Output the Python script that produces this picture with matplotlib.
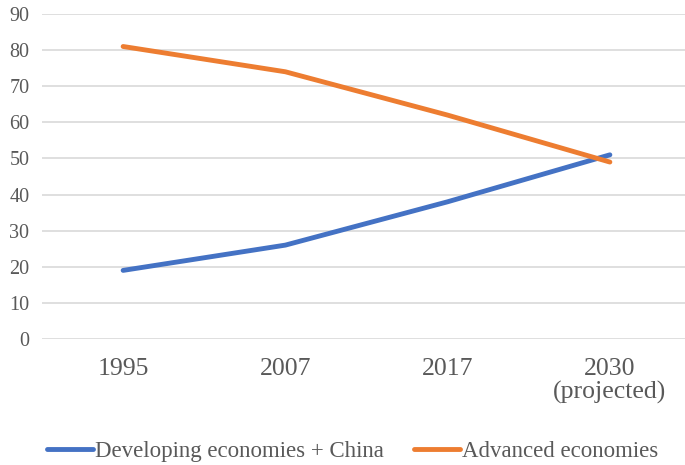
import numpy as np
import matplotlib.pyplot as plt

years = ["1995", "2007", "2017", "2030\n(projected)"]
developing = [19, 26, 38, 51]
advanced = [81, 74, 62, 49]

plt.rcParams['font.family'] = ['Liberation Serif', 'DejaVu Serif']
grey = "#595959"

fig = plt.figure(figsize=(6.85, 4.65), dpi=100)
ax = fig.add_axes([42/685, 126/465, 649/685, 325/465])

x = np.arange(len(years))
ax.plot(x, developing, color="#4472C4", lw=3.5, solid_capstyle="round", label="Developing economies + China")
ax.plot(x, advanced, color="#ED7D31", lw=3.5, solid_capstyle="round", label="Advanced economies")

ax.set_xlim(-0.5, 3.5)
ax.set_ylim(0, 90)
ax.set_yticks(range(0, 91, 10))
ax.set_xticks(x)
ax.set_xticklabels(years, fontsize=18.5, color=grey, linespacing=1.05)
ax.tick_params(axis="y", labelsize=14.5, labelcolor=grey, length=0, pad=9)
ax.tick_params(axis="x", length=0, pad=14)
ax.grid(axis="y", color="#D9D9D9", lw=1.2)
ax.set_axisbelow(True)
for s in ax.spines.values():
    s.set_visible(False)

fig.legend(loc="center", bbox_to_anchor=(0.515, 14/465), ncol=2, frameon=False,
           fontsize=16.5, labelcolor=grey, handlelength=2.0, handletextpad=0.1,
           columnspacing=1.3)

fig.savefig("out.png", dpi=100)
